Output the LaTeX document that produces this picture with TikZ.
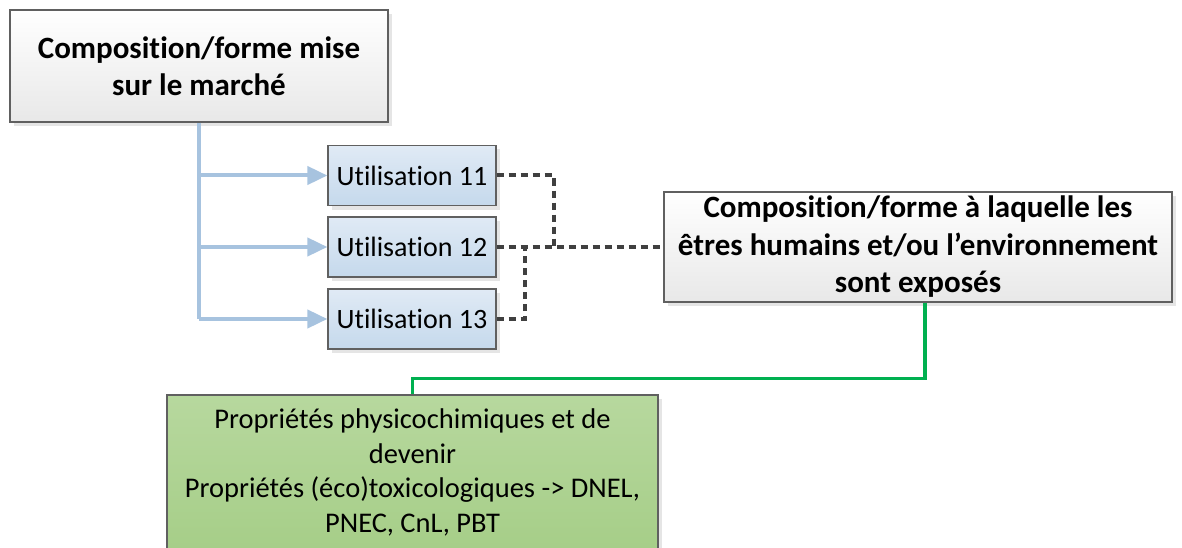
\documentclass[tikz,border=0pt]{standalone}
\usepackage{fontspec}
\setmainfont[Ligatures=NoCommon]{Carlito}
\usepackage{tikz}
\usetikzlibrary{positioning,arrows.meta,shadows,calc}

\definecolor{bleuligne}{HTML}{A7C3DF}
\definecolor{grisligne}{HTML}{404040}
\definecolor{vertligne}{HTML}{00B050}
\definecolor{bordbox}{HTML}{606060}

\tikzset{
  boite/.style={draw=bordbox,line width=1.2pt,inner sep=0pt,align=center,
    drop shadow={shadow xshift=4pt,shadow yshift=-4pt,fill=black!10,opacity=1}},
  grisbox/.style={boite,top color=white,bottom color=black!9,
    font=\fontsize{31}{37.5}\selectfont\bfseries},
  utilbox/.style={boite,top color={rgb,255:red,224;green,234;blue,245},bottom color={rgb,255:red,197;green,217;blue,236},
    minimum width=168pt,minimum height=60pt,font=\fontsize{28}{34}\selectfont},
  vertbox/.style={boite,top color={rgb,255:red,183;green,216;blue,158},bottom color={rgb,255:red,166;green,206;blue,136},
    font=\fontsize{28.5}{34.5}\selectfont},
  flechebleue/.style={draw=bleuligne,line width=4pt,-{Triangle[length=20pt,width=18pt,fill=bleuligne]}},
  lignebleue/.style={draw=bleuligne,line width=4pt},
  pointille/.style={draw=grisligne,line width=4pt,dash pattern=on 7pt off 5pt},
  lignevert/.style={draw=vertligne,line width=3.5pt}
}

\begin{document}
\begin{tikzpicture}[x=1pt,y=-1pt]
  \useasboundingbox (0,0) rectangle (1182,548);
  \node[grisbox,minimum width=378pt,minimum height=112pt] (marche) at (199,66)
       {Composition/forme mise\\sur le marché};
  \node[utilbox] (u11) at (412,175.5) {Utilisation 11};
  \node[utilbox] (u12) at (412,247) {Utilisation 12};
  \node[utilbox] (u13) at (412,319) {Utilisation 13};
  \node[grisbox,minimum width=508pt,minimum height=110pt] (expose) at (918,247)
       {Composition/forme à laquelle les\\êtres humains et/ou l’environnement\\sont exposés};
  \node[vertbox,minimum width=491pt,minimum height=155pt] (proprietes) at (412.5,472.5)
       {Propriétés physicochimiques et de\\devenir\\Propriétés (éco)toxicologiques -> DNEL,\\PNEC, CnL, PBT};
  % fleches bleues
  \path[lignebleue] (marche.south) -- (marche.south |- u13.west);
  \path[flechebleue] (marche.south |- u11.west) -- (u11.west);
  \path[flechebleue] (marche.south |- u12.west) -- (u12.west);
  \path[flechebleue] (marche.south |- u13.west) -- (u13.west);
  % pointilles
  \path[pointille] (u11.east) -- ++(57,0) |- (expose.west);
  \path[pointille] (u12.east) -- (expose.west);
  \path[pointille] (u13.east) -- ++(28,0) -- ($(u12.east)+(28,0)$);
  % ligne verte
  \path[lignevert] ($(expose.south)+(7,0)$) -- ++(0,76) -| (proprietes.north);
\end{tikzpicture}
\end{document}
